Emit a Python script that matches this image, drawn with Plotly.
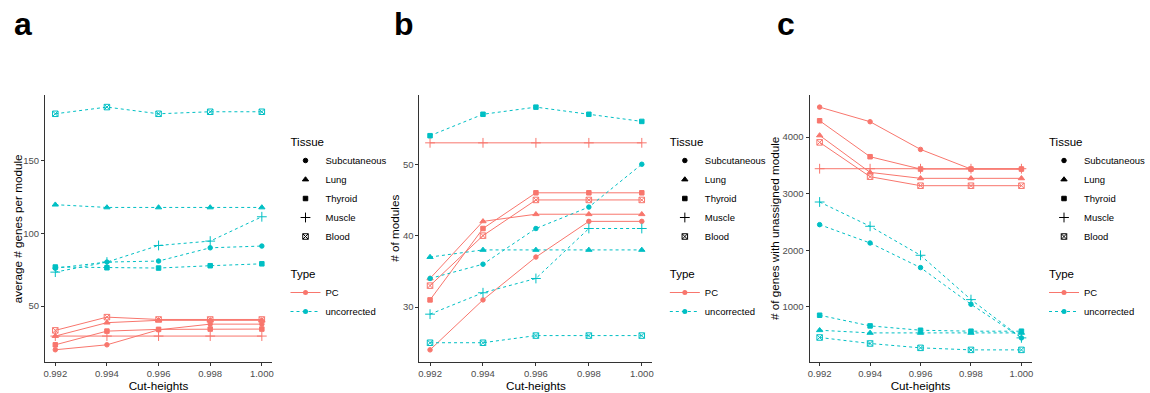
import plotly.graph_objects as go

# Shared x values and category labels
cut_heights = [0.992, 0.994, 0.996, 0.998, 1.000]
x_tick_labels = ["0.992", "0.994", "0.996", "0.998", "1.000"]
tissues = ["Subcutaneous", "Lung", "Thyroid", "Muscle", "Blood"]
types = ["PC", "uncorrected"]

# Panel a: average # genes per module (rows follow `tissues`)
genes_per_module_pc = [
    [20.0, 23.4, 33.7, 37.6, 37.6],
    [29.4, 38.6, 40.2, 40.2, 40.2],
    [23.4, 32.8, 34.0, 34.2, 34.2],
    [29.4, 29.4, 29.4, 29.4, 29.4],
    [33.3, 42.4, 40.8, 40.8, 40.8],
]
genes_per_module_unc = [
    [76.0, 80.2, 80.9, 90.0, 91.2],
    [119.6, 117.7, 117.7, 117.7, 117.7],
    [76.8, 76.3, 76.1, 77.7, 79.0],
    [73.3, 80.2, 91.6, 94.6, 111.3],
    [182.0, 186.6, 182.0, 183.4, 183.4],
]

# Panel b: # of modules
modules_pc = [
    [24, 31, 37, 42, 42],
    [34, 42, 43, 43, 43],
    [31, 41, 46, 46, 46],
    [53, 53, 53, 53, 53],
    [33, 40, 45, 45, 45],
]
modules_unc = [
    [34, 36, 41, 44, 50],
    [37, 38, 38, 38, 38],
    [54, 57, 58, 57, 56],
    [29, 32, 34, 41, 41],
    [25, 25, 26, 26, 26],
]

# Panel c: # of genes with unassigned module
unassigned_pc = [
    [4529, 4271, 3782, 3435, 3435],
    [4029, 3376, 3271, 3271, 3271],
    [4288, 3653, 3435, 3435, 3435],
    [3441, 3441, 3441, 3441, 3441],
    [3906, 3300, 3141, 3141, 3141],
]
unassigned_unc = [
    [2453, 2129, 1694, 1047, 453],
    [588, 541, 541, 541, 541],
    [853, 665, 588, 571, 571],
    [2853, 2424, 1912, 1129, 453],
    [460, 354, 277, 241, 241],
]

y_titles = ["average # genes per module", "# of modules", "# of genes with unassigned module"]
y_ticks = [[50, 100, 150], [30, 40, 50], [1000, 2000, 3000, 4000]]
panel_letters = ["a", "b", "c"]

# Styling
FONT = "Liberation Sans, Arial, sans-serif"
type_colors = {"PC": "#F8766D", "uncorrected": "#00BFC4"}
type_dash = {"PC": "solid", "uncorrected": "3px,3px"}
tissue_symbols = {
    "Subcutaneous": "circle",
    "Lung": "triangle-up",
    "Thyroid": "square",
    "Muscle": "cross-thin",
    "Blood": "square-x-open",
}
tissue_sizes = {"Subcutaneous": 4.5, "Lung": 5.5, "Thyroid": 4.5, "Muscle": 7, "Blood": 5.5}

W, H = 1150, 393
plot_top, plot_bottom = 95, 362
x_domains_px = [(43.5, 273.5), (422.6, 658.4), (817.5, 1042.2)]
y_ranges = [[11.6, 194.9], [22.3, 59.7], [27, 4743]]
legend_x_px = [287, 671, 1055]
y_title_x_px = [16, 397, 782]

panels = [
    (genes_per_module_pc, genes_per_module_unc),
    (modules_pc, modules_unc),
    (unassigned_pc, unassigned_unc),
]

fig = go.Figure()

for p, (pc_vals, unc_vals) in enumerate(panels):
    axn = "" if p == 0 else str(p + 1)
    xref, yref = "x" + axn, "y" + axn
    legend_name = "legend" + axn
    for t, vals in zip(types, (pc_vals, unc_vals)):
        for tissue, row in zip(tissues, vals):
            fig.add_trace(go.Scatter(
                x=cut_heights, y=row, xaxis=xref, yaxis=yref,
                mode="lines+markers", showlegend=False,
                line=dict(color=type_colors[t], width=1, dash=type_dash[t]),
                marker=dict(symbol=tissue_symbols[tissue], size=tissue_sizes[tissue],
                            color=type_colors[t],
                            line=dict(color=type_colors[t], width=1)),
                name=f"{tissue} {t}",
            ))
    # legend entries: Tissue (shape) and Type (colour / linetype)
    for i, tissue in enumerate(tissues):
        fig.add_trace(go.Scatter(
            x=[None], y=[None], xaxis=xref, yaxis=yref, mode="markers",
            name=tissue, legend=legend_name, legendgroup=f"tissue{p}",
            legendgrouptitle=dict(text="Tissue", font=dict(size=11.5, color="black", family=FONT)) if i == 0 else None,
            marker=dict(symbol=tissue_symbols[tissue], size=tissue_sizes[tissue],
                        color="black", line=dict(color="black", width=1)),
        ))
    for i, t in enumerate(types):
        fig.add_trace(go.Scatter(
            x=[None], y=[None], xaxis=xref, yaxis=yref, mode="lines+markers",
            name=t, legend=legend_name, legendgroup=f"type{p}",
            legendgrouptitle=dict(text="Type", font=dict(size=11.5, color="black", family=FONT)) if i == 0 else None,
            line=dict(color=type_colors[t], width=1, dash=type_dash[t]),
            marker=dict(symbol="circle", size=5, color=type_colors[t]),
        ))

    x0, x1 = x_domains_px[p]
    axis_common = dict(
        showline=True, linecolor="#333333", linewidth=1, mirror=False,
        showgrid=False, zeroline=False, ticks="outside", ticklen=3,
        tickcolor="#333333", tickwidth=1,
        tickfont=dict(family=FONT, size=9.5, color="#4D4D4D"),
    )
    fig.update_layout({
        "xaxis" + axn: dict(
            axis_common, domain=[x0 / W, x1 / W], range=[0.9916, 1.0004],
            tickvals=cut_heights, ticktext=x_tick_labels, anchor=yref,
            title=dict(text="Cut-heights", font=dict(family=FONT, size=11.7, color="black"), standoff=3),
        ),
        "yaxis" + axn: dict(
            axis_common, domain=[(H - plot_bottom) / H, (H - plot_top) / H],
            range=y_ranges[p], tickvals=y_ticks[p], anchor=xref,
        ),
        legend_name: dict(
            x=legend_x_px[p] / W, y=1 - 127 / H, xanchor="left", yanchor="top",
            font=dict(family=FONT, size=9.5, color="black"),
            tracegroupgap=18, bgcolor="rgba(0,0,0,0)", itemwidth=30,
        ),
    })
    # y-axis title, centred on the panel's plotting area
    fig.add_annotation(
        text=y_titles[p], textangle=-90, xref="paper", yref="paper",
        x=y_title_x_px[p] / W, y=1 - (plot_top + plot_bottom) / 2 / H,
        xanchor="center", yanchor="middle", showarrow=False,
        font=dict(family=FONT, size=11.7, color="black"),
    )

letter_x_px = [10, 395, 783]
for letter, lx in zip(panel_letters, letter_x_px):
    fig.add_annotation(
        text=f"<b>{letter}</b>", x=lx / W, y=1 - 4 / H, xref="paper", yref="paper",
        xanchor="left", yanchor="top", showarrow=False,
        font=dict(family=FONT, size=32, color="black"),
    )

fig.update_layout(
    width=W, height=H, margin=dict(l=0, r=0, t=0, b=0),
    paper_bgcolor="white", plot_bgcolor="white",
    font=dict(family=FONT),
)

fig.write_html("out.html")
